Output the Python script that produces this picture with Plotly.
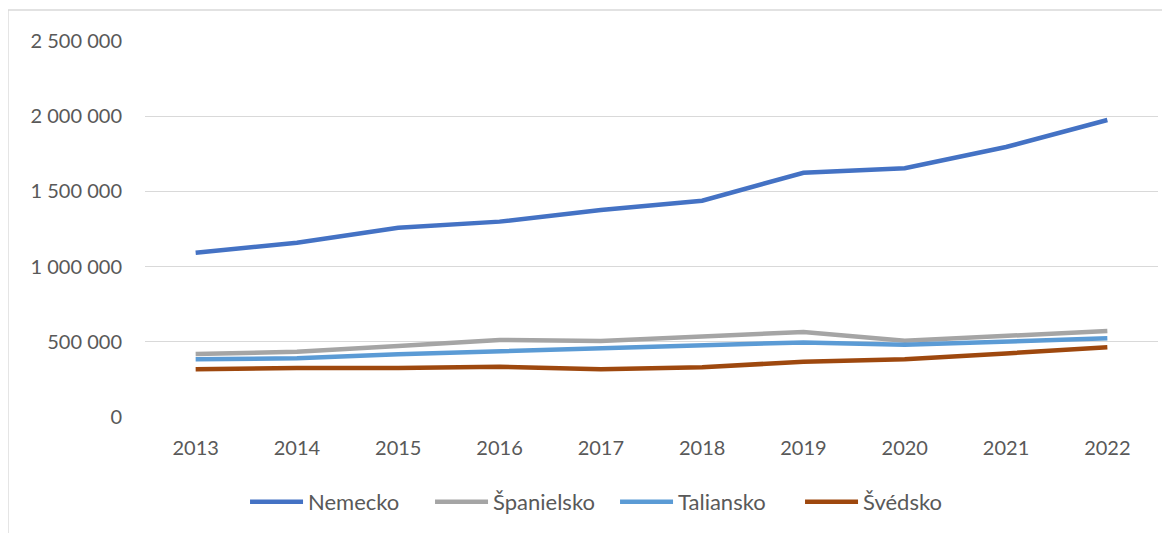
import plotly.graph_objects as go

years = ["2013", "2014", "2015", "2016", "2017", "2018", "2019", "2020", "2021", "2022"]

nemecko = [1092000, 1159000, 1259000, 1299000, 1376000, 1438000, 1624000, 1654000, 1795000, 1975000]
spanielsko = [419000, 434000, 472000, 512000, 505000, 534000, 565000, 507000, 538000, 572000]
taliansko = [384000, 390000, 417000, 437000, 457000, 481000, 496000, 481000, 499000, 523000]
svedsko = [317000, 326000, 326000, 334000, 317000, 330000, 368000, 384000, 423000, 463000]

series = [
    ("Nemecko", nemecko, "#4472C4"),
    ("Španielsko", spanielsko, "#A5A5A5"),
    ("Taliansko", taliansko, "#5B9BD5"),
    ("Švédsko", svedsko, "#9E480E"),
]

fig = go.Figure()
for name, vals, color in series:
    fig.add_trace(
        go.Scatter(
            x=years,
            y=vals,
            name=name,
            mode="lines",
            line=dict(color=color, width=4.5),
        )
    )

# outer chart border
fig.add_shape(
    type="rect",
    xref="paper", yref="paper",
    x0=-0.1353, x1=1.0179, y0=-0.34, y1=1.0824,
    line=dict(color="#D9D9D9", width=1.5),
    fillcolor="rgba(0,0,0,0)",
    layer="below",
)

fig.update_layout(
    width=1162,
    height=525,
    paper_bgcolor="white",
    plot_bgcolor="white",
    margin=dict(l=137, r=12, t=33, b=116, autoexpand=False),
    separators=". ",
    font=dict(family="Lato, 'Open Sans', sans-serif", size=20, color="#595959"),
    showlegend=True,
    legend=dict(
        orientation="h",
        x=0.464,
        xanchor="center",
        y=-0.226,
        yanchor="middle",
        font=dict(size=22, color="#595959"),
        bgcolor="rgba(0,0,0,0)",
        itemwidth=53,
        entrywidth=117,
    ),
    xaxis=dict(
        type="category",
        range=[-0.5, 9.5],
        showgrid=False,
        zeroline=False,
        showline=False,
        ticks="",
        ticklabelstandoff=17,
        automargin=False,
    ),
    yaxis=dict(
        range=[0, 2500000],
        tickvals=[0, 500000, 1000000, 1500000, 2000000, 2500000],
        tickformat=",d",
        showgrid=True,
        gridcolor="#D9D9D9",
        gridwidth=1,
        zeroline=False,
        showline=False,
        ticks="",
        ticklabelstandoff=22,
        automargin=False,
    ),
)

fig.write_html("out.html")
